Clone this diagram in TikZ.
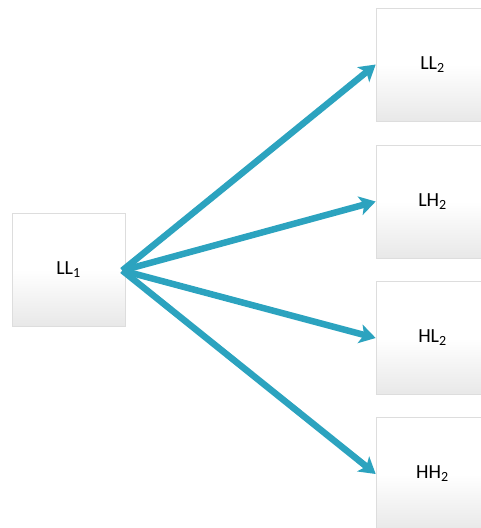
\documentclass[tikz,border=0pt]{standalone}
\usepackage{fontspec}
\setmainfont{Carlito}
\usetikzlibrary{arrows.meta}
\definecolor{arrowc}{HTML}{2CA3BF}
\definecolor{edgec}{HTML}{DDDDDD}
\begin{document}
\begin{tikzpicture}[x=1pt,y=-1pt,
  box/.style={draw=edgec, line width=0.6pt, minimum width=113pt, minimum height=113pt,
    inner sep=0pt, top color=white, bottom color=black!9, middle color=white,
    font=\fontsize{20}{24}\selectfont},
  conn/.style={draw=arrowc, line width=6.5pt, -{Stealth[length=16pt,width=19pt,inset=4pt]}}]
\useasboundingbox (0,0) rectangle (481,528);
\node[box] (ll1) at (68.5,269.5) {LL\textsubscript{1}};
\node[box] (ll2) at (432.5,64.5) {LL\textsubscript{2}};
\node[box] (lh2) at (432.5,201.5) {LH\textsubscript{2}};
\node[box] (hl2) at (432.5,338) {HL\textsubscript{2}};
\node[box] (hh2) at (432.5,474) {HH\textsubscript{2}};
\coordinate (s) at ([xshift=-3pt,yshift=-1pt]ll1.east);
\draw[conn] (s) -- (ll2.west);
\draw[conn] (s) -- (lh2.west);
\draw[conn] (s) -- (hl2.west);
\draw[conn] (s) -- (hh2.west);
\end{tikzpicture}
\end{document}
